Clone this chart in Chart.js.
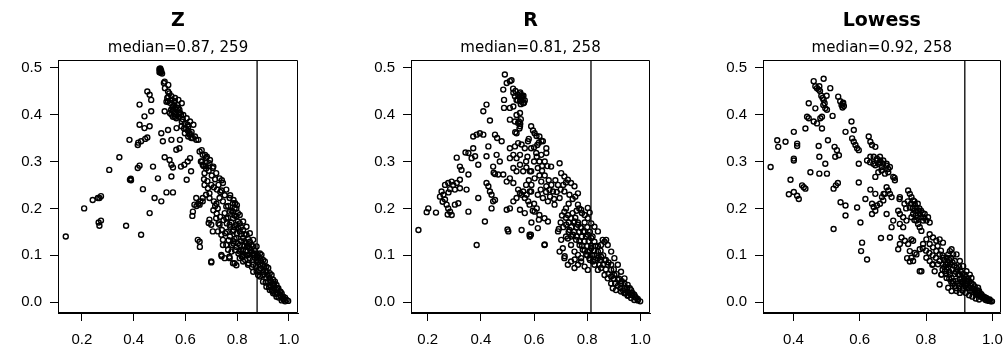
<!DOCTYPE html>
<html lang="en">
<head>
<meta charset="UTF-8" />
<title>Z / R / Lowess</title>
<script src="https://cdn.jsdelivr.net/npm/chart.js"></script>
<style>
  body { margin: 0; background: #fff; }
  #wrap { position: relative; width: 1006px; height: 358px; }
  canvas { position: absolute; top: 0; }
</style>
</head>
<body>
<div id="wrap">
  <canvas id="c0" width="335" height="358" style="left:0"></canvas>
  <canvas id="c1" width="335" height="358" style="left:335px"></canvas>
  <canvas id="c2" width="336" height="358" style="left:670px"></canvas>
</div>
<script>
const titles = ['Z', 'R', 'Lowess'];
const medianLabels = ['0.87', '0.81', '0.92'];
const counts = [259, 258, 258];
const medians = [0.877, 0.814, 0.917];
const xTicks = [[0.2, 0.4, 0.6, 0.8, 1.0], [0.2, 0.4, 0.6, 0.8, 1.0], [0.4, 0.6, 0.8, 1.0]];
const yTicks = [0, 0.1, 0.2, 0.3, 0.4, 0.5];
const xRanges = [[0.108, 1.035], [0.137, 1.036], [0.308, 1.025]];
const yRange = [-0.0228, 0.516];

const zPoints = [
  [0.138,0.14],[0.209,0.2],[0.242,0.218],[0.262,0.222],[0.268,0.222],[0.274,0.226],[0.265,0.17],[0.268,0.163],[0.274,0.174],
  [0.306,0.282],[0.345,0.309],[0.371,0.163],[0.384,0.346],[0.386,0.261],[0.389,0.263],[0.39,0.26],[0.416,0.286],[0.423,0.291],
  [0.416,0.335],[0.418,0.34],[0.423,0.421],[0.429,0.144],[0.436,0.241],[0.423,0.378],[0.442,0.371],[0.462,0.375],[0.442,0.396],
  [0.468,0.407],[0.429,0.343],[0.445,0.348],[0.453,0.351],[0.453,0.449],[0.462,0.442],[0.468,0.431],[0.462,0.19],[0.475,0.289],
  [0.481,0.222],[0.494,0.264],[0.507,0.215],[0.5,0.497],[0.501,0.495],[0.503,0.492],[0.505,0.489],[0.51,0.487],[0.517,0.467],
  [0.52,0.47],[0.521,0.456],[0.534,0.463],[0.527,0.427],[0.533,0.449],[0.534,0.438],[0.546,0.439],[0.547,0.431],[0.559,0.428],
  [0.56,0.435],[0.573,0.431],[0.572,0.414],[0.574,0.403],[0.586,0.424],[0.552,0.407],[0.553,0.417],[0.52,0.407],[0.533,0.428],
  [0.546,0.4],[0.54,0.403],[0.565,0.392],[0.566,0.41],[0.579,0.403],[0.592,0.399],[0.605,0.392],[0.618,0.385],[0.56,0.395],
  [0.586,0.385],[0.611,0.374],[0.631,0.378],[0.624,0.363],[0.637,0.353],[0.65,0.346],[0.611,0.353],[0.598,0.36],[0.579,0.346],
  [0.566,0.371],[0.507,0.36],[0.513,0.343],[0.546,0.346],[0.533,0.367],[0.565,0.325],[0.52,0.309],[0.539,0.303],[0.546,0.293],
  [0.552,0.287],[0.546,0.268],[0.527,0.234],[0.552,0.234],[0.577,0.328],[0.583,0.289],[0.596,0.293],[0.609,0.3],[0.618,0.307],
  [0.622,0.279],[0.605,0.261],[0.609,0.378],[0.616,0.357],[0.629,0.35],[0.642,0.346],[0.627,0.184],[0.643,0.205],[0.65,0.21],
  [0.658,0.215],[0.667,0.222],[0.655,0.129],[0.656,0.118],[0.655,0.321],[0.663,0.324],[0.667,0.314],[0.676,0.314],[0.68,0.307],
  [0.683,0.31],[0.693,0.296],[0.695,0.303],[0.706,0.286],[0.708,0.289],[0.667,0.293],[0.674,0.275],[0.719,0.275],[0.732,0.264],
  [0.741,0.26],[0.745,0.254],[0.758,0.24],[0.773,0.228],[0.786,0.218],[0.792,0.211],[0.799,0.207],[0.674,0.25],[0.687,0.243],
  [0.693,0.232],[0.68,0.229],[0.667,0.215],[0.642,0.222],[0.635,0.208],[0.629,0.193],[0.655,0.208],[0.693,0.222],[0.693,0.176],
  [0.7,0.165],[0.706,0.151],[0.69,0.169],[0.648,0.133],[0.7,0.087],[0.739,0.101],[0.752,0.094],[0.719,0.179],[0.732,0.165],
  [0.726,0.151],[0.739,0.144],[0.745,0.133],[0.758,0.122],[0.765,0.112],[0.771,0.094],[0.784,0.083],[0.797,0.079],[0.708,0.196],
  [0.721,0.189],[0.734,0.182],[0.747,0.175],[0.76,0.168],[0.773,0.161],[0.786,0.154],[0.799,0.147],[0.728,0.168],[0.741,0.154],
  [0.754,0.147],[0.767,0.132],[0.78,0.122],[0.792,0.111],[0.805,0.104],[0.818,0.097],[0.831,0.09],[0.844,0.083],[0.857,0.075],
  [0.838,0.118],[0.851,0.111],[0.864,0.104],[0.876,0.097],[0.732,0.222],[0.745,0.215],[0.758,0.204],[0.771,0.193],[0.784,0.179],
  [0.797,0.165],[0.81,0.151],[0.823,0.137],[0.836,0.126],[0.849,0.115],[0.862,0.101],[0.875,0.09],[0.888,0.08],[0.9,0.065],
  [0.913,0.051],[0.926,0.037],[0.939,0.023],[0.952,0.012],[0.758,0.179],[0.771,0.165],[0.784,0.151],[0.797,0.137],[0.81,0.122],
  [0.823,0.112],[0.836,0.101],[0.849,0.094],[0.862,0.08],[0.875,0.066],[0.888,0.055],[0.9,0.044],[0.913,0.033],[0.926,0.026],
  [0.939,0.019],[0.784,0.193],[0.797,0.183],[0.81,0.168],[0.823,0.154],[0.836,0.144],[0.849,0.129],[0.862,0.119],[0.875,0.104],
  [0.888,0.094],[0.9,0.08],[0.913,0.065],[0.926,0.051],[0.939,0.037],[0.952,0.026],[0.965,0.016],[0.978,0.007],[0.771,0.222],
  [0.784,0.211],[0.797,0.2],[0.81,0.186],[0.823,0.172],[0.836,0.161],[0.849,0.147],[0.862,0.133],[0.875,0.119],[0.888,0.104],
  [0.9,0.09],[0.913,0.076],[0.926,0.062],[0.939,0.048],[0.952,0.037],[0.965,0.023],[0.978,0.012],[0.997,0.003],[0.745,0.122],
  [0.778,0.108],[0.81,0.094],[0.823,0.087],[0.842,0.08],[0.862,0.065],[0.881,0.058],[0.894,0.101],[0.907,0.087],[0.92,0.073],
  [0.933,0.058],[0.946,0.044],[0.959,0.03],[0.972,0.019],[0.985,0.01],[0.991,0.005],[0.786,0.125],[0.79,0.083],[0.77,0.097],
  [0.74,0.098],[0.70,0.085],
  [0.752,0.19],[0.765,0.18],[0.778,0.17],[0.79,0.16],[0.803,0.158],[0.815,0.145],[0.828,0.13],[0.842,0.12],[0.855,0.108],
  [0.868,0.095],[0.88,0.085],[0.892,0.072],[0.905,0.06],[0.918,0.045],[0.93,0.033],[0.943,0.03],[0.955,0.02],[0.968,0.012],
  [0.98,0.006],[0.905,0.075],[0.918,0.058],[0.93,0.045],[0.943,0.04],[0.955,0.03],[0.968,0.022],[0.88,0.1],[0.892,0.088],
  [0.868,0.11],[0.855,0.122],[0.842,0.135],[0.828,0.145],[0.815,0.16],[0.803,0.172],[0.79,0.185],[0.778,0.195],[0.765,0.205],
  [0.752,0.228],[0.74,0.238],[0.728,0.25],[0.715,0.262],[0.702,0.27],[0.69,0.28],[0.678,0.29],[0.665,0.3],[0.79,0.2],
  [0.803,0.19],[0.79,0.135],[0.803,0.125],[0.815,0.11],[0.828,0.1],[0.84,0.1],[0.815,0.13],[0.828,0.12],[0.76,0.15],
  [0.772,0.14],[0.785,0.13],[0.797,0.118],[0.81,0.108],[0.822,0.098],[0.835,0.11],[0.848,0.102],[0.86,0.09],[0.873,0.078],
  [0.885,0.068],[0.898,0.058],[0.91,0.042],[0.923,0.032],[0.935,0.025],[0.947,0.018],[0.96,0.01],[0.972,0.004],[0.985,0.002],
  [0.54,0.425],[0.55,0.415],[0.557,0.42],[0.563,0.415],[0.57,0.42],[0.577,0.41],[0.583,0.4],[0.59,0.39],[0.597,0.38],
  [0.603,0.37],[0.61,0.365],[0.617,0.36],[0.623,0.35],[0.53,0.435],[0.538,0.445],[0.545,0.41],[0.552,0.395],[0.56,0.405],
  [0.575,0.395],[0.585,0.375],[0.595,0.37],[0.505,0.495],[0.507,0.492],[0.5,0.49],[0.503,0.498],
  [0.66,0.3],[0.67,0.29],[0.68,0.285],[0.69,0.29],[0.672,0.262],[0.685,0.258],[0.7,0.25],[0.71,0.245],[0.722,0.24],
  [0.735,0.235],[0.715,0.205],[0.725,0.2],[0.71,0.215],[0.72,0.21]
];

const rPoints = [
  [0.165,0.154],[0.196,0.192],[0.202,0.2],[0.231,0.191],[0.246,0.225],[0.252,0.236],[0.259,0.229],[0.256,0.214],[0.265,0.219],
  [0.265,0.25],[0.271,0.208],[0.277,0.2],[0.275,0.187],[0.284,0.193],[0.29,0.186],[0.277,0.254],[0.29,0.257],[0.296,0.25],
  [0.278,0.234],[0.284,0.241],[0.302,0.208],[0.315,0.211],[0.302,0.24],[0.309,0.254],[0.321,0.261],[0.321,0.243],[0.309,0.308],
  [0.321,0.289],[0.327,0.282],[0.342,0.319],[0.346,0.24],[0.353,0.272],[0.353,0.193],[0.353,0.318],[0.365,0.307],[0.371,0.328],
  [0.378,0.311],[0.39,0.293],[0.371,0.353],[0.384,0.357],[0.396,0.36],[0.409,0.357],[0.39,0.222],[0.384,0.122],[0.415,0.172],
  [0.409,0.407],[0.421,0.421],[0.434,0.387],[0.428,0.332],[0.421,0.311],[0.446,0.289],[0.459,0.314],[0.471,0.3],[0.453,0.357],
  [0.461,0.35],[0.478,0.343],[0.421,0.254],[0.428,0.247],[0.434,0.236],[0.44,0.229],[0.446,0.215],[0.453,0.218],[0.44,0.2],
  [0.465,0.272],[0.484,0.272],[0.448,0.276],[0.453,0.273],[0.497,0.197],[0.509,0.2],[0.503,0.151],[0.49,0.485],[0.497,0.467],
  [0.509,0.471],[0.484,0.453],[0.487,0.431],[0.487,0.414],[0.515,0.473],[0.521,0.455],[0.522,0.446],[0.528,0.439],[0.534,0.431],
  [0.54,0.442],[0.547,0.428],[0.553,0.435],[0.559,0.424],[0.53,0.45],[0.545,0.445],[0.556,0.44],[0.565,0.43],[0.509,0.414],
  [0.522,0.417],[0.534,0.399],[0.547,0.403],[0.509,0.389],[0.528,0.385],[0.54,0.382],[0.547,0.375],[0.534,0.36],[0.529,0.362],
  [0.509,0.307],[0.522,0.314],[0.534,0.307],[0.547,0.314],[0.509,0.328],[0.528,0.332],[0.54,0.339],[0.553,0.336],[0.565,0.328],
  [0.522,0.286],[0.534,0.279],[0.547,0.293],[0.559,0.279],[0.509,0.264],[0.497,0.257],[0.522,0.254],[0.54,0.24],[0.547,0.233],
  [0.553,0.229],[0.559,0.236],[0.565,0.222],[0.572,0.229],[0.578,0.215],[0.522,0.215],[0.534,0.222],[0.547,0.197],[0.565,0.19],
  [0.553,0.154],[0.584,0.14],[0.584,0.279],[0.584,0.236],[0.5,0.155],[0.58,0.348],[0.571,0.287],[0.589,0.375],[0.602,0.36],
  [0.62,0.353],[0.633,0.343],[0.646,0.328],[0.577,0.343],[0.589,0.328],[0.608,0.318],[0.627,0.314],[0.646,0.318],[0.596,0.366],
  [0.609,0.354],[0.628,0.344],[0.589,0.279],[0.614,0.286],[0.664,0.289],[0.696,0.296],[0.702,0.275],[0.714,0.268],[0.727,0.261],
  [0.739,0.254],[0.752,0.247],[0.765,0.232],[0.602,0.264],[0.627,0.257],[0.646,0.247],[0.658,0.239],[0.671,0.236],[0.589,0.236],
  [0.614,0.229],[0.633,0.222],[0.652,0.215],[0.677,0.208],[0.696,0.222],[0.714,0.236],[0.733,0.229],[0.583,0.208],[0.602,0.193],
  [0.62,0.186],[0.639,0.179],[0.652,0.172],[0.583,0.144],[0.614,0.158],[0.639,0.122],[0.64,0.123],[0.69,0.151],[0.702,0.133],
  [0.708,0.115],[0.696,0.108],[0.714,0.094],[0.727,0.08],[0.739,0.087],[0.752,0.073],[0.765,0.08],[0.777,0.094],[0.714,0.193],
  [0.727,0.186],[0.739,0.179],[0.752,0.172],[0.765,0.165],[0.777,0.158],[0.79,0.151],[0.802,0.144],[0.815,0.137],[0.827,0.129],
  [0.721,0.165],[0.733,0.154],[0.746,0.144],[0.758,0.133],[0.771,0.122],[0.783,0.112],[0.796,0.101],[0.808,0.094],[0.821,0.087],
  [0.765,0.208],[0.777,0.197],[0.79,0.186],[0.802,0.179],[0.815,0.168],[0.827,0.161],[0.84,0.151],[0.802,0.201],[0.809,0.191],
  [0.727,0.136],[0.739,0.122],[0.752,0.108],[0.765,0.101],[0.777,0.087],[0.79,0.076],[0.802,0.069],[0.802,0.108],[0.815,0.115],
  [0.827,0.101],[0.84,0.094],[0.846,0.08],[0.852,0.122],[0.865,0.129],[0.871,0.133],[0.858,0.133],[0.877,0.122],[0.89,0.108],
  [0.902,0.094],[0.915,0.08],[0.927,0.065],[0.94,0.051],[0.952,0.037],[0.965,0.026],[0.977,0.016],[0.99,0.007],[0.999,0.002],
  [0.827,0.08],[0.84,0.069],[0.852,0.073],[0.865,0.058],[0.877,0.051],[0.89,0.04],[0.896,0.03],[0.908,0.026],[0.927,0.023],
  [0.94,0.019],[0.952,0.014],[0.965,0.009],[0.977,0.005],[0.84,0.108],[0.852,0.097],[0.865,0.09],[0.877,0.08],[0.89,0.069],
  [0.902,0.058],[0.915,0.048],[0.927,0.04],[0.94,0.03],[0.952,0.023],[0.965,0.016],[0.983,0.01],[0.753,0.091],[0.715,0.098],
  [0.693,0.156],[0.618,0.176],[0.588,0.144],
  [0.548,0.447],[0.552,0.44],[0.557,0.432],[0.56,0.44],[0.562,0.425],[0.55,0.422],[0.545,0.438],[0.538,0.43],[0.543,0.385],
  [0.55,0.39],[0.548,0.38],[0.545,0.37],
  [0.72,0.18],[0.73,0.17],[0.74,0.16],[0.75,0.15],[0.76,0.14],[0.77,0.13],[0.78,0.12],[0.79,0.11],[0.8,0.1],[0.81,0.09],
  [0.745,0.19],[0.755,0.18],[0.765,0.17],[0.775,0.16],[0.785,0.15],[0.795,0.14],[0.805,0.13],[0.815,0.12],[0.825,0.11],
  [0.835,0.1],[0.77,0.2],[0.78,0.19],[0.79,0.17],[0.8,0.16],[0.81,0.15],[0.82,0.14],[0.83,0.12],[0.84,0.12],[0.85,0.11],
  [0.86,0.1],[0.87,0.09],[0.88,0.085],[0.89,0.08],[0.9,0.07],[0.91,0.06],[0.92,0.05],[0.93,0.045],[0.94,0.04],[0.95,0.03],
  [0.96,0.02],[0.97,0.015],[0.98,0.012],[0.99,0.004],[0.905,0.04],[0.915,0.035],[0.925,0.03],[0.935,0.025],[0.945,0.02],
  [0.955,0.015],[0.96,0.03],[0.97,0.02],[0.85,0.09],[0.86,0.08],[0.87,0.07],[0.88,0.06],[0.89,0.055],[0.9,0.05],[0.83,0.09],
  [0.82,0.1],[0.81,0.11],[0.8,0.12],[0.79,0.13],[0.78,0.14],[0.77,0.15],[0.76,0.16],[0.75,0.17],[0.74,0.14],[0.73,0.15],
  [0.72,0.14],[0.71,0.16],[0.7,0.17],[0.705,0.185],[0.72,0.2],[0.73,0.21],[0.745,0.22],[0.755,0.225],[0.76,0.195],
  [0.62,0.27],[0.63,0.28],[0.64,0.27],[0.655,0.26],[0.665,0.25],[0.68,0.26],[0.69,0.25],[0.625,0.24],[0.645,0.235],
  [0.66,0.225],[0.675,0.22],[0.685,0.235],[0.7,0.24],[0.71,0.25],[0.72,0.255],[0.6,0.3],[0.61,0.31],[0.62,0.3],[0.63,0.29],
  [0.64,0.3],[0.65,0.29],[0.6,0.33],[0.612,0.335],[0.618,0.34],[0.575,0.31],[0.57,0.3],[0.58,0.26],[0.57,0.25],[0.59,0.25],
  [0.6,0.21],[0.61,0.2],[0.595,0.195],[0.59,0.17]
];

const lowessPoints = [
  [0.331,0.288],[0.351,0.345],[0.354,0.331],[0.376,0.342],[0.391,0.261],[0.386,0.23],[0.401,0.235],[0.411,0.227],[0.416,0.22],
  [0.401,0.363],[0.401,0.306],[0.401,0.302],[0.411,0.338],[0.411,0.333],[0.426,0.249],[0.431,0.245],[0.436,0.242],[0.436,0.37],
  [0.446,0.424],[0.441,0.395],[0.446,0.392],[0.451,0.277],[0.461,0.385],[0.471,0.381],[0.466,0.413],[0.461,0.471],[0.466,0.46],
  [0.471,0.456],[0.476,0.453],[0.491,0.476],[0.511,0.456],[0.476,0.333],[0.478,0.31],[0.478,0.274],[0.486,0.37],[0.481,0.392],
  [0.486,0.395],[0.491,0.431],[0.494,0.424],[0.496,0.295],[0.501,0.274],[0.496,0.413],[0.501,0.41],[0.504,0.345],[0.518,0.397],
  [0.521,0.242],[0.528,0.249],[0.534,0.254],[0.521,0.156],[0.524,0.331],[0.531,0.324],[0.537,0.313],[0.526,0.31],[0.535,0.438],
  [0.541,0.428],[0.549,0.423],[0.552,0.418],[0.542,0.213],[0.557,0.206],[0.557,0.185],[0.557,0.363],[0.575,0.385],[0.582,0.367],
  [0.577,0.349],[0.582,0.342],[0.587,0.335],[0.592,0.328],[0.597,0.324],[0.597,0.295],[0.597,0.255],[0.592,0.202],[0.602,0.17],
  [0.607,0.127],[0.604,0.109],[0.622,0.091],[0.627,0.353],[0.632,0.342],[0.637,0.335],[0.647,0.331],[0.622,0.302],[0.632,0.31],
  [0.642,0.31],[0.652,0.306],[0.662,0.302],[0.647,0.292],[0.657,0.295],[0.667,0.281],[0.647,0.267],[0.632,0.24],[0.647,0.231],
  [0.617,0.22],[0.637,0.21],[0.642,0.203],[0.647,0.195],[0.637,0.188],[0.652,0.206],[0.667,0.224],[0.672,0.231],[0.631,0.298],
  [0.641,0.295],[0.651,0.302],[0.661,0.298],[0.671,0.295],[0.681,0.291],[0.686,0.284],[0.656,0.277],[0.666,0.288],[0.661,0.31],
  [0.671,0.302],[0.681,0.295],[0.691,0.288],[0.666,0.281],[0.676,0.274],[0.686,0.277],[0.701,0.267],[0.706,0.26],[0.705,0.265],
  [0.681,0.245],[0.686,0.238],[0.691,0.231],[0.696,0.224],[0.676,0.231],[0.671,0.217],[0.661,0.21],[0.721,0.224],[0.72,0.22],
  [0.681,0.188],[0.701,0.174],[0.696,0.16],[0.691,0.138],[0.664,0.137],[0.716,0.195],[0.721,0.188],[0.731,0.181],[0.741,0.174],
  [0.721,0.167],[0.731,0.16],[0.746,0.238],[0.751,0.231],[0.756,0.224],[0.761,0.217],[0.766,0.209],[0.771,0.202],[0.776,0.195],
  [0.781,0.188],[0.786,0.181],[0.791,0.174],[0.801,0.174],[0.811,0.17],[0.751,0.202],[0.761,0.188],[0.771,0.174],[0.781,0.16],
  [0.786,0.152],[0.776,0.167],[0.756,0.181],[0.766,0.195],[0.726,0.138],[0.736,0.131],[0.746,0.124],[0.756,0.134],[0.761,0.131],
  [0.716,0.113],[0.721,0.124],[0.751,0.109],[0.756,0.095],[0.761,0.088],[0.771,0.102],[0.781,0.113],[0.786,0.066],[0.743,0.094],
  [0.751,0.087],[0.766,0.105],[0.796,0.188],[0.806,0.181],[0.791,0.124],[0.801,0.134],[0.811,0.145],[0.821,0.138],[0.831,0.131],
  [0.841,0.134],[0.851,0.127],[0.811,0.124],[0.821,0.117],[0.831,0.109],[0.841,0.102],[0.851,0.095],[0.801,0.095],[0.811,0.088],
  [0.821,0.081],[0.836,0.081],[0.847,0.059],[0.857,0.066],[0.867,0.074],[0.872,0.081],[0.872,0.059],[0.877,0.052],[0.882,0.045],
  [0.887,0.088],[0.892,0.074],[0.897,0.059],[0.902,0.049],[0.907,0.038],[0.912,0.031],[0.917,0.059],[0.922,0.045],[0.927,0.031],
  [0.932,0.024],[0.937,0.052],[0.942,0.038],[0.947,0.024],[0.952,0.016],[0.957,0.031],[0.962,0.02],[0.972,0.013],[0.982,0.009],
  [0.992,0.006],[0.999,0.002],[0.892,0.102],[0.902,0.088],[0.912,0.077],[0.922,0.066],[0.932,0.059],[0.872,0.109],[0.877,0.113],
  [0.882,0.102],[0.862,0.095],[0.867,0.102],[0.841,0.088],[0.851,0.081],[0.862,0.07],[0.862,0.052],[0.826,0.066],[0.841,0.038],
  [0.867,0.031],[0.877,0.024],[0.892,0.024],[0.902,0.02],[0.781,0.066],[0.819,0.08],[0.846,0.059],[0.876,0.044],[0.927,0.05],
  [0.937,0.04],[0.947,0.034],[0.957,0.025],[0.967,0.017],[0.977,0.011],[0.987,0.006],[0.917,0.04],[0.907,0.05],[0.897,0.04],
  [0.887,0.06],[0.887,0.035],
  [0.85,0.07],[0.855,0.075],[0.86,0.08],[0.865,0.085],[0.87,0.09],[0.875,0.095],[0.88,0.085],[0.885,0.078],[0.89,0.065],
  [0.895,0.07],[0.9,0.075],[0.905,0.065],[0.91,0.06],[0.915,0.05],[0.92,0.055],[0.925,0.04],[0.93,0.045],[0.935,0.035],
  [0.94,0.03],[0.945,0.028],[0.95,0.025],[0.955,0.02],[0.96,0.015],[0.965,0.012],[0.97,0.01],[0.975,0.008],[0.98,0.005],
  [0.985,0.004],[0.99,0.003],[0.995,0.002],[0.86,0.06],[0.87,0.05],[0.88,0.04],[0.89,0.03],[0.9,0.035],[0.91,0.025],
  [0.92,0.02],[0.93,0.015],[0.94,0.012],[0.95,0.008],[0.96,0.006],[0.87,0.065],[0.88,0.07],[0.89,0.045],[0.9,0.06],
  [0.91,0.045],[0.92,0.035],[0.93,0.03],[0.94,0.022],[0.95,0.018],[0.96,0.024],[0.85,0.1],[0.855,0.09],[0.845,0.11],
  [0.835,0.12],[0.83,0.095],[0.82,0.1],[0.81,0.105],[0.8,0.11],[0.79,0.115],
  [0.76,0.2],[0.765,0.215],[0.77,0.185],[0.775,0.21],[0.78,0.2],[0.785,0.195],[0.79,0.19],[0.795,0.18],[0.775,0.18],
  [0.765,0.175],[0.74,0.2],[0.735,0.21],[0.745,0.215],[0.755,0.21],
  [0.48,0.45],[0.484,0.44],[0.488,0.435],[0.478,0.46],[0.49,0.42],[0.5,0.44],[0.545,0.42],[0.548,0.415],[0.55,0.425]
];

const panels = [zPoints, rPoints, lowessPoints];

// padding so each plot box sits where the reference has it
const padLeft = [18, 36, 53];
const padRight = [37, 20, 5];
const FONT = 'DejaVu Sans';
const TICK_FONT = 'Liberation Sans';

// R style full box around the plot region
const framePlugin = {
  id: 'plotFrame',
  afterDatasetsDraw(chart) {
    const { ctx, chartArea: a } = chart;
    const l = Math.round(a.left) + 0.5, r = Math.round(a.right) - 0.5;
    const t = Math.round(a.top) + 0.5, b = Math.round(a.bottom) - 0.5;
    ctx.save();
    ctx.strokeStyle = '#000';
    ctx.lineWidth = 1;
    ctx.beginPath();
    ctx.moveTo(l, t);
    ctx.lineTo(r, t);
    ctx.lineTo(r, b);
    ctx.lineTo(l, b);
    ctx.closePath();
    ctx.stroke();
    ctx.restore();
  }
};

panels.forEach((pts, i) => {
  const ctx = document.getElementById('c' + i).getContext('2d');
  new Chart(ctx, {
    type: 'scatter',
    data: {
      datasets: [
        {
          data: pts.map(p => ({ x: p[0], y: p[1] })),
          pointStyle: 'circle',
          pointRadius: 2.5,
          pointBorderWidth: 1.4,
          pointBorderColor: '#000',
          pointBackgroundColor: 'rgba(0,0,0,0)'
        },
        {
          type: 'line',
          data: [{ x: medians[i], y: yRange[0] }, { x: medians[i], y: yRange[1] }],
          borderColor: '#000',
          borderWidth: 1.3,
          pointRadius: 0
        }
      ]
    },
    options: {
      responsive: false,
      animation: false,
      devicePixelRatio: 1,
      layout: { padding: { left: padLeft[i], right: padRight[i], top: 0, bottom: 0 } },
      plugins: {
        legend: { display: false },
        tooltip: { enabled: false },
        title: {
          display: true,
          text: titles[i],
          fullSize: false,
          color: '#000',
          font: { family: FONT, size: 19, weight: 'bold' },
          padding: { top: 10, bottom: 6 }
        },
        subtitle: {
          display: true,
          text: 'median=' + medianLabels[i] + ', ' + counts[i],
          fullSize: false,
          color: '#000',
          font: { family: FONT, size: 15 },
          padding: { top: 0, bottom: 3.2 }
        }
      },
      scales: {
        x: {
          type: 'linear',
          min: xRanges[i][0],
          max: xRanges[i][1],
          afterBuildTicks: s => { s.ticks = xTicks[i].map(v => ({ value: v })); },
          afterFit: s => { s.height = 45; s.paddingLeft = 0; s.paddingRight = 0; },
          ticks: {
            color: '#000',
            font: { family: TICK_FONT, size: 15 },
            padding: 10,
            maxRotation: 0,
            autoSkip: false,
            callback: v => v.toFixed(1)
          },
          grid: { drawOnChartArea: false, drawTicks: true, tickLength: 8, tickColor: '#000', color: '#000' },
          border: { display: true, color: '#000' }
        },
        y: {
          type: 'linear',
          min: yRange[0],
          max: yRange[1],
          afterBuildTicks: s => { s.ticks = yTicks.map(v => ({ value: v })); },
          afterFit: s => { s.width = 40; s.paddingTop = 0; s.paddingBottom = 0; },
          ticks: {
            color: '#000',
            font: { family: TICK_FONT, size: 15 },
            padding: 8,
            autoSkip: false,
            callback: v => v.toFixed(1)
          },
          grid: { drawOnChartArea: false, drawTicks: true, tickLength: 8, tickColor: '#000', color: '#000' },
          border: { display: true, color: '#000' }
        }
      }
    },
    plugins: [framePlugin]
  });
});
</script>
</body>
</html>
